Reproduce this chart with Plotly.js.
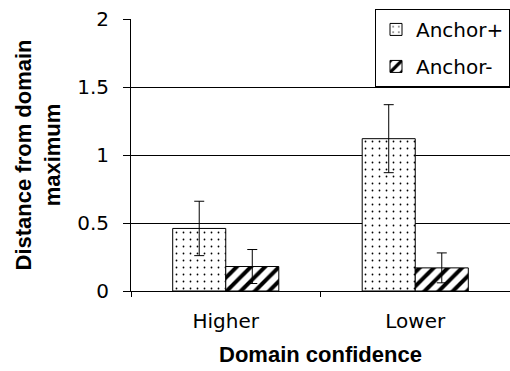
<!DOCTYPE html>
<html>
<head>
<meta charset="utf-8">
<script src="https://cdn.plot.ly/plotly-3.0.1.min.js"></script>
<style>html,body{margin:0;padding:0;background:#fff;}#chart{width:510px;height:371px;}</style>
</head>
<body>
<div id="chart"></div>
<script>
var categories = ["Higher", "Lower"];
var seriesNames = ["Anchor+", "Anchor-"];
var anchorPlus = [0.46, 1.12];
var anchorPlusErr = [0.2, 0.25];
var anchorMinus = [0.18, 0.17];
var anchorMinusErr = [0.125, 0.11];
var yTickVals = [0, 0.5, 1, 1.5, 2];
var yTickText = ["0", "0.5", "1", "1.5", "2"];

var tickFont = "DejaVu Sans, Verdana, sans-serif";
var titleFont = "Liberation Sans, Arial, sans-serif";

var traces = [
  {
    type: "bar", name: seriesNames[0], x: categories, y: anchorPlus, legendgroup: "a",
    marker: {color: "#ffffff", line: {color: "#000", width: 1},
      pattern: {shape: ".", fgcolor: "#000", bgcolor: "#fff", size: 7, solidity: 0.05}},
    error_y: {type: "data", array: anchorPlusErr, visible: true, color: "#000", thickness: 1, width: 5}
  },
  {
    type: "bar", name: seriesNames[1], x: categories, y: anchorMinus, legendgroup: "b",
    marker: {color: "#ffffff", line: {color: "#000", width: 1},
      pattern: {shape: "/", fgcolor: "#000", bgcolor: "#fff", size: 10, solidity: 0.4}},
    error_y: {type: "data", array: anchorMinusErr, visible: true, color: "#000", thickness: 1, width: 5}
  }
];

var layout = {
  width: 510, height: 371,
  margin: {l: 131, r: 0, t: 19, b: 80, pad: 0},
  paper_bgcolor: "#fff", plot_bgcolor: "#fff",
  font: {family: tickFont, size: 20, color: "#000"},
  barmode: "group", bargap: 0.44, bargroupgap: 0,
  showlegend: true,
  legend: {x: 1, y: 1.037, xanchor: "right", yanchor: "top",
    bgcolor: "#fff", bordercolor: "#000", borderwidth: 1,
    font: {family: tickFont, size: 20, color: "#000"}, tracegroupgap: 8, itemwidth: 30},
  xaxis: {
    type: "category", range: [-0.5, 1.5], showline: true, linecolor: "#000", linewidth: 1,
    ticks: "outside", tickson: "boundaries", ticklen: 5, tickcolor: "#000",
    showgrid: false, zeroline: false, ticklabelstandoff: 12,
    tickfont: {family: tickFont, size: 20, color: "#000"},
    title: {text: "Domain confidence", font: {family: titleFont, size: 22, color: "#000", weight: "bold"}, standoff: 14}
  },
  yaxis: {
    range: [0, 2], tickvals: yTickVals, ticktext: yTickText,
    showline: true, linecolor: "#000", linewidth: 1,
    ticks: "outside", ticklen: 7, tickcolor: "#000",
    showgrid: true, gridcolor: "#000", gridwidth: 1, zeroline: false,
    ticklabelstandoff: 10,
    tickfont: {family: tickFont, size: 20, color: "#000"},
    title: {text: "Distance from domain<br>maximum", font: {family: titleFont, size: 22, color: "#000", weight: "bold"}, standoff: 10}
  }
};

Plotly.newPlot("chart", traces, layout, {staticPlot: true, displayModeBar: false});
</script>
</body>
</html>
